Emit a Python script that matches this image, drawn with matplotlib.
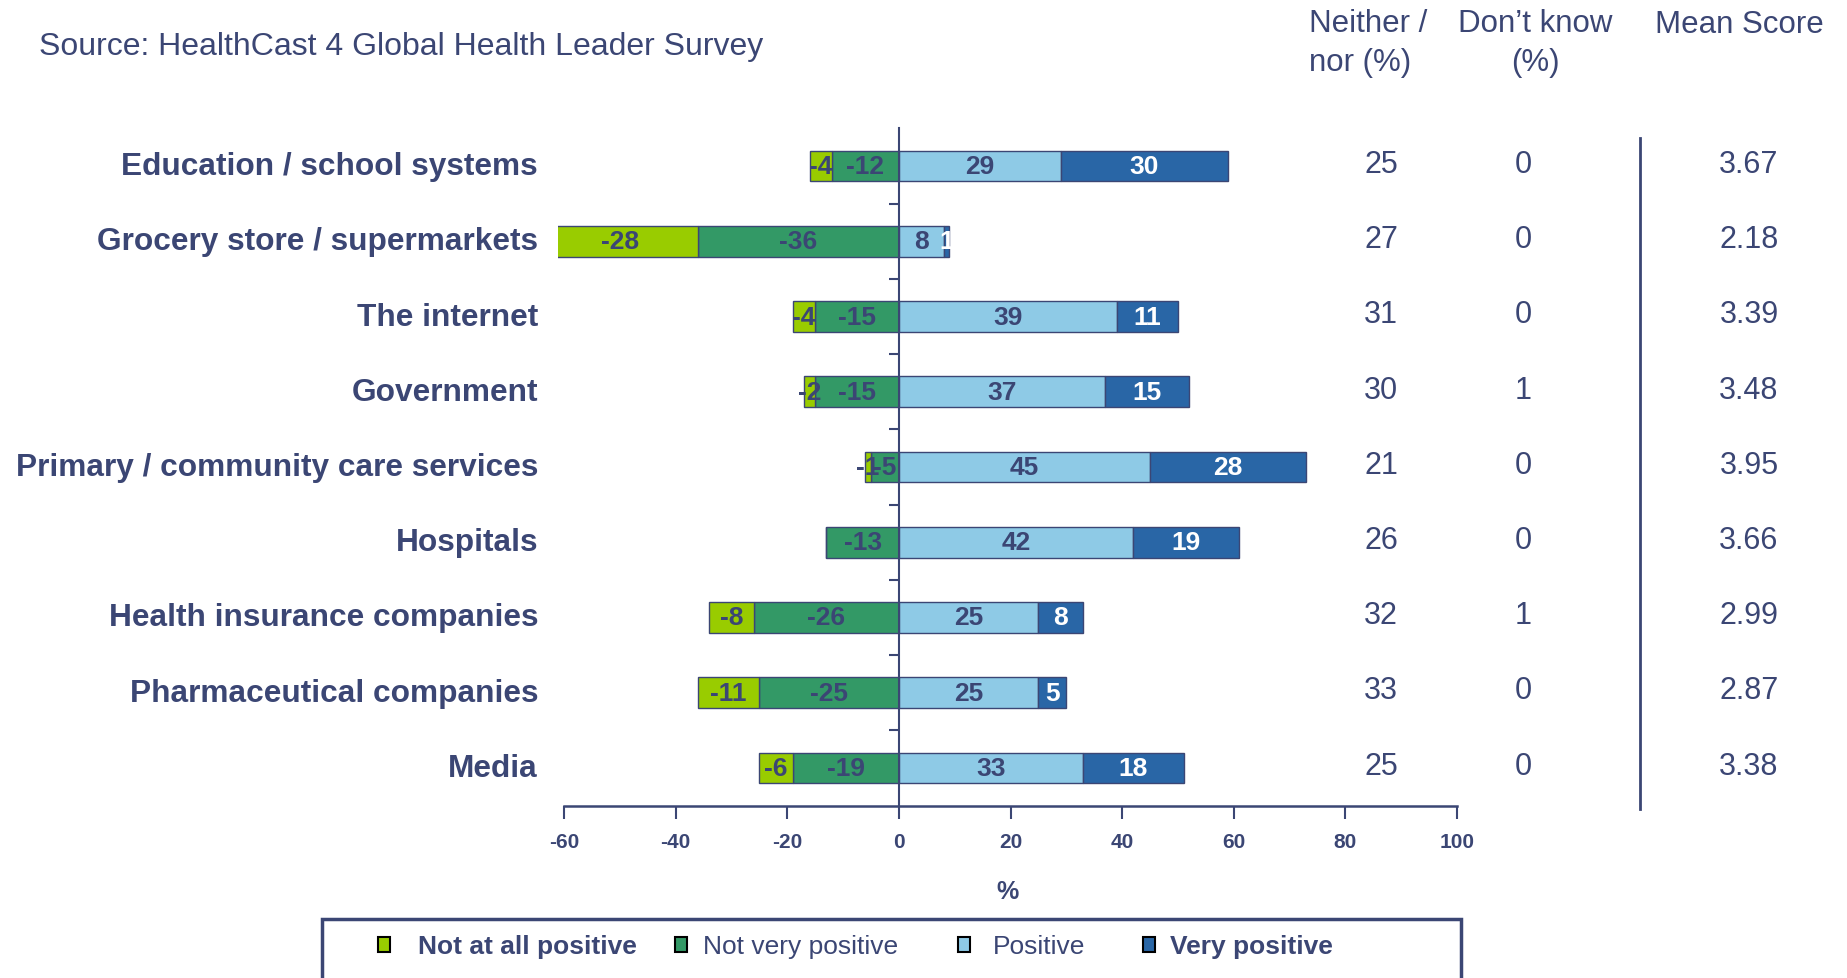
import numpy as np
import matplotlib.pyplot as plt
import matplotlib.transforms as mtransforms
from matplotlib.patches import Rectangle
from matplotlib.lines import Line2D

plt.rcParams['font.family'] = ['Liberation Sans', 'DejaVu Sans']

NAVY = '#3b4674'
C_NOT_AT_ALL = '#99cc00'
C_NOT_VERY = '#339966'
C_POSITIVE = '#8ecae6'
C_VERY = '#2966a6'

categories = ['Education / school systems', 'Grocery store / supermarkets',
              'The internet', 'Government', 'Primary / community care services',
              'Hospitals', 'Health insurance companies',
              'Pharmaceutical companies', 'Media']
not_at_all = [-4, -28, -4, -2, -1, 0, -8, -11, -6]
not_very = [-12, -36, -15, -15, -5, -13, -26, -25, -19]
positive = [29, 8, 39, 37, 45, 42, 25, 25, 33]
very_positive = [30, 1, 11, 15, 28, 19, 8, 5, 18]
neither = [25, 27, 31, 30, 21, 26, 32, 33, 25]
dont_know = [0, 0, 0, 1, 0, 0, 1, 0, 0]
mean_score = [3.67, 2.18, 3.39, 3.48, 3.95, 3.66, 2.99, 2.87, 3.38]
x_ticks = [-60, -40, -20, 0, 20, 40, 60, 80, 100]

W, H = 1847, 979
fig = plt.figure(figsize=(W / 100, H / 100), dpi=100)
ax = fig.add_axes([0.30234, 0.1761, 0.48651, 0.6917])

n = len(categories)
y = np.arange(n)[::-1]
bh = 0.41

segments = [
    (not_very, [0] * n, C_NOT_VERY, NAVY),
    (not_at_all, not_very, C_NOT_AT_ALL, NAVY),
    (positive, [0] * n, C_POSITIVE, NAVY),
    (very_positive, positive, C_VERY, 'white'),
]
for vals, lefts, color, tcol in segments:
    ax.barh(y, vals, left=lefts, height=bh, color=color,
            edgecolor=NAVY, linewidth=1.0, zorder=2)
    for yi, v, l in zip(y, vals, lefts):
        if v == 0:
            continue
        ax.text(l + v / 2, yi, str(v), ha='center', va='center',
                color=tcol, fontsize=19, fontweight='bold', zorder=3)

ax.set_xlim(-61, 100)
ax.set_ylim(-0.5, n - 0.5)

# axis styling: zero line with small ticks between rows, bottom scale
for s in ['top', 'right']:
    ax.spines[s].set_visible(False)
ax.spines['left'].set_position(('data', 0))
ax.spines['left'].set_color(NAVY)
ax.spines['left'].set_linewidth(1.5)
ax.spines['left'].set_zorder(4)
ax.spines['bottom'].set_color(NAVY)
ax.spines['bottom'].set_linewidth(1.8)
ax.spines['bottom'].set_bounds(-60, 100)
ax.set_yticks(np.arange(n - 1) + 0.5)
ax.set_yticklabels([])
ax.tick_params(axis='y', direction='out', length=7, width=1.5, color=NAVY)
ax.set_xticks(x_ticks)
ax.set_xticklabels([str(t) for t in x_ticks], fontsize=15,
                   fontweight='bold', color=NAVY)
ax.tick_params(axis='x', direction='out', length=9, width=1.5,
               color=NAVY, pad=10)
ax.set_xlabel('%', fontsize=18, fontweight='bold', color=NAVY, labelpad=20)

for yi, name in zip(y, categories):
    ax.text(-0.0227, yi, name, transform=ax.get_yaxis_transform(),
            ha='right', va='center', fontsize=22.8, fontweight='bold',
            color=NAVY)

# side columns
col = mtransforms.blended_transform_factory(fig.transFigure, ax.transData)
for yi, a, b, m in zip(y, neither, dont_know, mean_score):
    ax.text(1381 / W, yi + 0.03, str(a), transform=col, ha='center',
            va='center', fontsize=22, color=NAVY)
    ax.text(1523 / W, yi + 0.03, str(b), transform=col, ha='center',
            va='center', fontsize=22, color=NAVY)
    ax.text(1749 / W, yi + 0.03, f'{m:.2f}', transform=col, ha='center',
            va='center', fontsize=22, color=NAVY)

fig.add_artist(Line2D([1640 / W, 1640 / W], [1 - 139 / H, 1 - 810 / H],
                      color=NAVY, linewidth=2))

fig.text(39 / W, 1 - 47 / H, 'Source: HealthCast 4 Global Health Leader Survey',
         ha='left', va='center', fontsize=23, color=NAVY)
fig.text(1309 / W, 1 - 9 / H, 'Neither /\nnor (%)', ha='left', va='top',
         fontsize=22.5, color=NAVY, linespacing=1.4)
fig.text(1535 / W, 1 - 9 / H, 'Don\u2019t know\n(%)', ha='center', va='top',
         fontsize=22.5, color=NAVY, linespacing=1.4)
fig.text(1739 / W, 1 - 10 / H, 'Mean Score', ha='center', va='top',
         fontsize=22.5, color=NAVY)

# legend box
fig.add_artist(Rectangle((322 / W, -0.05), (1461 - 322) / W, 0.05 + (H - 920) / H,
                         transform=fig.transFigure, fill=False,
                         edgecolor=NAVY, linewidth=2.5))
legend_items = [
    ('Not at all positive', C_NOT_AT_ALL, 'bold', 384, 418),
    ('Not very positive', C_NOT_VERY, 'normal', 681, 703),
    ('Positive', C_POSITIVE, 'normal', 964, 993),
    ('Very positive', C_VERY, 'bold', 1149, 1170),
]
for label, color, weight, mx, tx in legend_items:
    fig.add_artist(Rectangle(((mx - 6) / W, 1 - 953 / H), 12 / W, 15 / H,
                             transform=fig.transFigure, facecolor=color,
                             edgecolor='black', linewidth=1.5))
    fig.text(tx / W, 1 - 947 / H, label, ha='left', va='center',
             fontsize=19, fontweight=weight, color=NAVY)

fig.savefig('out.png', dpi=100)
